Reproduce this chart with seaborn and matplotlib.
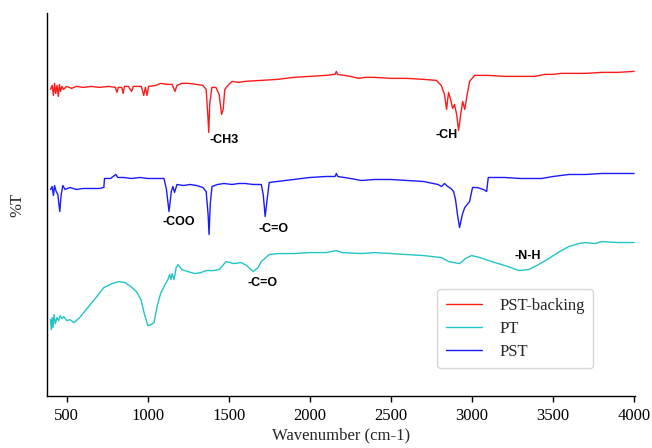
import matplotlib
matplotlib.use("Agg")
import matplotlib.pyplot as plt
import seaborn as sns
import pandas as pd

# ---- data (arbitrary %T units) ----
red_x = [400, 410, 418, 425, 432, 440, 448, 455, 462, 470, 480, 500, 530, 560, 600, 650, 700, 760, 800,
         810, 818, 840, 848, 856, 880, 900, 910, 960, 975, 985, 995, 1005, 1050, 1080, 1120, 1150, 1168,
         1180, 1210, 1250, 1300, 1340, 1360, 1370, 1376, 1382, 1395, 1420, 1440, 1455, 1465, 1475, 1500,
         1520, 1560, 1600, 1700, 1800, 1900, 2000, 2100, 2155, 2163, 2170, 2250, 2300, 2340, 2400, 2500,
         2600, 2700, 2780, 2810, 2830, 2843, 2855, 2868, 2880, 2892, 2905, 2917, 2930, 2942, 2955, 2970,
         2985, 3016, 3100, 3200, 3300, 3387, 3450, 3500, 3550, 3600, 3700, 3800, 3900, 4000]
red_y = [306, 310, 300, 312, 302, 310, 299, 311, 304, 309, 306, 309, 307, 309, 308, 309, 308, 309, 308,
         303, 308, 308, 302, 309, 309, 304, 309, 309, 300, 308, 300, 309, 310, 312, 311, 311, 304,
         310, 312, 312, 311, 310, 306, 281, 263, 291, 308, 308, 301, 281, 286, 306, 311,
         314, 313, 314, 315, 316, 318, 319, 320, 321, 324, 321, 319, 317, 318, 318, 317,
         317, 316, 315, 310, 301, 286, 303, 296, 287, 291, 281, 265, 281, 294, 286, 301,
         314, 320, 320, 319, 319, 319, 321, 321, 322, 322, 322, 323, 323, 324]

blue_x = [400, 410, 418, 425, 435, 445, 457, 466, 476, 490, 520, 560, 600, 650, 700, 729, 733, 770, 803,
          815, 850, 900, 950, 1000, 1050, 1100, 1115, 1131, 1145, 1155, 1165, 1180, 1220, 1260, 1300,
          1340, 1360, 1372, 1378, 1385, 1396, 1430, 1470, 1520, 1560, 1600, 1650, 1700, 1712, 1724,
          1736, 1749, 1800, 1900, 2000, 2100, 2155, 2163, 2172, 2250, 2317, 2400, 2500, 2600, 2700,
          2731, 2790, 2812, 2830, 2850, 2870, 2886, 2898, 2910, 2923, 2940, 2955, 2970, 2985, 3003,
          3030, 3071, 3090, 3100, 3200, 3300, 3430, 3500, 3597, 3700, 3800, 3900, 4000]
blue_y = [206, 209, 200, 210, 204, 201, 184, 201, 210, 206, 208, 206, 207, 207, 207, 208, 217, 217, 221,
          218, 218, 217, 218, 217, 217, 217, 206, 184, 204, 209, 203, 211, 210, 211, 210,
          208, 204, 181, 161, 191, 209, 211, 212, 211, 212, 212, 211, 211, 201, 179,
          196, 213, 214, 216, 218, 219, 219, 222, 219, 217, 215, 216, 216, 215, 214,
          213, 211, 209, 212, 209, 207, 204, 196, 181, 168, 181, 188, 191, 194, 208,
          208, 206, 204, 218, 218, 217, 217, 219, 221, 221, 222, 222, 222]

cyan_x = [400, 405, 410, 415, 422, 430, 440, 450, 460, 470, 482, 500, 520, 544, 580, 630, 680, 729, 780,
          822, 860, 896, 930, 958, 980, 1001, 1020, 1038, 1060, 1081, 1100, 1124, 1135, 1143, 1150, 1162,
          1175, 1186, 1210, 1248, 1290, 1328, 1360, 1403, 1440, 1483, 1530, 1576, 1610, 1650, 1680,
          1700, 1749, 1800, 1900, 2000, 2100, 2163, 2200, 2317, 2398, 2500, 2600, 2700, 2812, 2855,
          2923, 2960, 2997, 3050, 3120, 3183, 3240, 3288, 3350, 3410, 3473, 3540, 3597, 3659, 3700,
          3760, 3800, 3900, 4000]
cyan_y = [76, 66, 78, 68, 81, 72, 78, 75, 80, 77, 79, 75, 76, 73, 78, 88, 98, 108, 112,
          114, 113, 109, 104, 96, 81, 70, 71, 73, 91, 103, 109, 116, 121, 116, 122, 116,
          128, 131, 126, 124, 122, 123, 125, 125, 126, 134, 132, 133, 130, 124, 128,
          134, 141, 142, 142, 143, 143, 145, 143, 142, 143, 142, 141, 140, 138, 134,
          132, 137, 140, 138, 134, 131, 128, 125, 126, 131, 137, 144, 149, 152, 153,
          152, 154, 153, 153]

series_names = ["PST-backing", "PT", "PST"]
series_colors = ["#ff1a1a", "#22c4c4", "#1a1aff"]

ann_text = ["-CH3", "-CH", "-COO", "-C=O", "-C=O", "-N-H"]
ann_x = [1471, 2843, 1190, 1774, 1706, 3343]
ann_y = [255, 260, 174, 167, 113, 140]

xticks = [500, 1000, 1500, 2000, 2500, 3000, 3500, 4000]

# ---- build long-form table ----
frames = []
for name, xs, ys in [("PST-backing", red_x, red_y), ("PT", cyan_x, cyan_y), ("PST", blue_x, blue_y)]:
    frames.append(pd.DataFrame({"wavenumber": xs, "T": ys, "sample": name}))
df = pd.concat(frames, ignore_index=True)

sns.set_style("ticks")
plt.rcParams["font.family"] = ["Liberation Serif", "DejaVu Serif"]

fig = plt.figure(figsize=(6.52, 4.48), dpi=100)
ax = fig.add_axes([0.0725, 0.1167, 0.9014, 0.8536])

sns.lineplot(data=df, x="wavenumber", y="T", hue="sample", hue_order=series_names,
             palette=dict(zip(series_names, series_colors)), sort=False, estimator=None,
             linewidth=1.0, ax=ax)

for t, x, y in zip(ann_text, ann_x, ann_y):
    ax.text(x, y, t, ha="center", va="center", fontsize=9, fontweight="bold",
            family=["Liberation Sans", "DejaVu Sans"], color="black")

ax.set_xlim(380, 4005)
ax.set_ylim(0, 382)
ax.set_xticks(xticks)
ax.set_xticklabels([str(v) for v in xticks])
ax.set_yticks([])
ax.tick_params(axis="x", direction="out", length=4.5, width=1, labelsize=12, pad=4, colors="black")
for s in ["top", "right"]:
    ax.spines[s].set_visible(False)
for s in ["left", "bottom"]:
    ax.spines[s].set_color("black")
    ax.spines[s].set_linewidth(1.0)

ax.set_xlabel("Wavenumber (cm-1)", fontsize=12, labelpad=3)
ax.set_ylabel("%T", fontsize=12, labelpad=16)

leg = ax.legend(loc="lower right", bbox_to_anchor=(0.9285, 0.0724), borderaxespad=0, fontsize=12,
                frameon=True, handlelength=2.2, handletextpad=1.0, borderpad=0.5, labelspacing=0.42,
                fancybox=True, edgecolor="#cccccc")
leg.get_frame().set_linewidth(1.0)

fig.savefig("out.png", dpi=100)
